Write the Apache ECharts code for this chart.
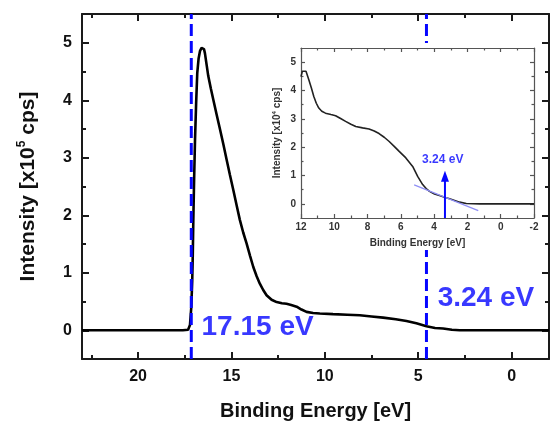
<!DOCTYPE html>
<html><head><meta charset="utf-8">
<script src="https://cdn.jsdelivr.net/npm/echarts@6/dist/echarts.min.js"></script>
<style>html,body{margin:0;padding:0;background:#fff}#c{width:550px;height:430px}</style>
</head><body><div id="c"></div><script>
// ---- data ----
const mainCurve = [[23,0],[20,0],[17.6,0],[17.32,0.01],[17.22,0.09],[17.15,0.4],[17.1,0.85],[17.07,1.3],[17.04,1.92],[17.0,2.6],[16.95,3.31],[16.89,3.95],[16.83,4.47],[16.76,4.72],[16.68,4.86],[16.6,4.91],[16.54,4.92],[16.47,4.89],[16.42,4.82],[16.33,4.62],[16.24,4.42],[16.1,4.2],[15.97,4.01],[15.8,3.76],[15.61,3.49],[15.43,3.23],[15.26,2.97],[15.08,2.7],[14.9,2.44],[14.72,2.17],[14.55,1.92],[14.37,1.7],[14.19,1.51],[14.0,1.29],[13.83,1.1],[13.65,0.94],[13.48,0.81],[13.3,0.7],[13.12,0.61],[12.85,0.53],[12.58,0.49],[12.3,0.47],[12.05,0.46],[11.8,0.44],[11.51,0.41],[11.25,0.36],[10.98,0.32],[10.63,0.3],[10.27,0.29],[9.56,0.28],[8.8,0.27],[8.13,0.26],[7.5,0.24],[6.88,0.22],[6.2,0.19],[5.63,0.16],[5.1,0.12],[4.56,0.07],[4.1,0.04],[3.67,0.03],[3.2,0.01],[2.78,0],[0,0],[-2,0]];
const insetCurve = [[12,4.49],[11.92,4.68],[11.84,4.75],[11.7,4.68],[11.53,4.38],[11.38,4.1],[11.23,3.79],[11.08,3.55],[10.93,3.38],[10.75,3.27],[10.53,3.2],[10.2,3.15],[9.92,3.11],[9.62,3.01],[9.32,2.91],[9.0,2.81],[8.71,2.73],[8.3,2.68],[7.91,2.64],[7.6,2.57],[7.31,2.48],[7.0,2.35],[6.7,2.2],[6.4,2.03],[6.1,1.85],[5.7,1.62],[5.29,1.32],[4.99,0.97],[4.69,0.68],[4.48,0.54],[4.28,0.44],[3.98,0.35],[3.68,0.29],[3.38,0.23],[3.07,0.18],[2.77,0.12],[2.47,0.06],[2.07,0.01],[1.26,0],[-2,0]];
const tangentLine = [[5.2,0.67],[1.35,-0.24]];
const cutoffLine = [[17.15,-0.5],[17.15,5.5]];
const edgeLine = [[4.56,-0.5],[4.56,5.5]];
const arrowLine = [[3.35,-0.5],[3.35,0.97]];
const mainXMajor = [0,5,10,15,20], mainXMinor = [2.5,7.5,12.5,17.5,22.5];
const mainYMajor = [0,1,2,3,4,5], mainYMinor = [0.5,1.5,2.5,3.5,4.5];
const insetXMajor = [12,10,8,6,4,2,0,-2], insetXMinor = [11,9,7,5,3,1,-1];
const insetYMajor = [0,1,2,3,4,5], insetYMinor = [0.5,1.5,2.5,3.5,4.5];
const mainLabels = [{text:'17.15 eV', x:16.6, y:0.05},{text:'3.24 eV', x:3.96, y:0.56}];
const insetLabel = {text:'3.24 eV', x:3.48, y:1.56};

const FONT = 'Liberation Sans, Arial, sans-serif';
const BLUE = '#0606ff';

function ax(dim, grid, pos, range, ticks, len, o) {
  o = o || {};
  const a = {
    type: 'value', gridIndex: grid, position: pos, min: range[0], max: range[1],
    inverse: !!range[2], z: o.z || 0,
    axisLine: {show: !!o.line, onZero: false, lineStyle: {color: o.color, width: o.width}},
    axisTick: {show: true, inside: true, length: len, customValues: ticks, lineStyle: {color: o.color, width: o.width}},
    axisLabel: {show: !!o.labels, customValues: ticks, margin: o.margin, color: o.labelColor,
                fontFamily: FONT, fontWeight: 'bold', fontSize: o.fontSize},
    splitLine: {show: false}
  };
  if (o.name) Object.assign(a, o.name);
  return a;
}

const MX = [-2, 23, true], MY = [-0.5, 5.5], IX = [-2, 12, true], IY = [-0.5, 5.5];
const mainStyle = {color: '#1a1a1a', width: 2};
const insetStyle = {color: '#555', width: 1.2, z: 4};

const xAxis = [
  ax('x',0,'bottom',MX,mainXMajor,7,Object.assign({line:true,labels:true,margin:10,labelColor:'#111',fontSize:16,
     name:{name:'Binding Energy [eV]',nameLocation:'middle',nameGap:42,
       nameTextStyle:{fontFamily:FONT,fontWeight:'bold',fontSize:20,color:'#111'}}},mainStyle)),
  ax('x',0,'bottom',MX,mainXMinor,4,mainStyle),
  ax('x',0,'top',MX,mainXMajor,7,Object.assign({line:true},mainStyle)),
  ax('x',0,'top',MX,mainXMinor,4,mainStyle),
  ax('x',1,'bottom',IX,insetXMajor,4,Object.assign({line:true,labels:true,margin:4,labelColor:'#333',fontSize:10,
     name:{name:'Binding Energy [eV]',nameLocation:'middle',nameGap:20,
       nameTextStyle:{fontFamily:FONT,fontWeight:'bold',fontSize:10,color:'#333'}}},insetStyle)),
  ax('x',1,'bottom',IX,insetXMinor,2.5,insetStyle),
  ax('x',1,'top',IX,insetXMajor,4,Object.assign({line:true},insetStyle)),
  ax('x',1,'top',IX,insetXMinor,2.5,insetStyle)
];
const yAxis = [
  ax('y',0,'left',MY,mainYMajor,7,Object.assign({line:true,labels:true,margin:10,labelColor:'#111',fontSize:16,
     name:{name:'Intensity [x10{sup|5} cps]',nameLocation:'middle',nameGap:42,nameRotate:90,
       nameTextStyle:{fontFamily:FONT,fontWeight:'bold',fontSize:21,color:'#111',lineHeight:24,
         rich:{sup:{fontFamily:FONT,fontWeight:'bold',fontSize:12,color:'#111',verticalAlign:'top',lineHeight:12}}}}},mainStyle)),
  ax('y',0,'left',MY,mainYMinor,4,mainStyle),
  ax('y',0,'right',MY,mainYMajor,7,Object.assign({line:true},mainStyle)),
  ax('y',0,'right',MY,mainYMinor,4,mainStyle),
  ax('y',1,'left',IY,insetYMajor,4,Object.assign({line:true,labels:true,margin:5,labelColor:'#333',fontSize:10,
     name:{name:'Intensity [x10{sup|4} cps]',nameLocation:'middle',nameGap:18,nameRotate:90,
       nameTextStyle:{fontFamily:FONT,fontWeight:'bold',fontSize:10,color:'#333',lineHeight:12,
         rich:{sup:{fontFamily:FONT,fontWeight:'bold',fontSize:6,color:'#333',verticalAlign:'top',lineHeight:6}}}}},insetStyle)),
  ax('y',1,'left',IY,insetYMinor,2.5,insetStyle),
  ax('y',1,'right',IY,insetYMajor,4,Object.assign({line:true},insetStyle)),
  ax('y',1,'right',IY,insetYMinor,2.5,insetStyle)
];

const chart = echarts.init(document.getElementById('c'), null, {renderer: 'canvas'});
chart.setOption({
  animation: false,
  backgroundColor: '#fff',
  grid: [
    {left: 82, top: 14, width: 467, height: 345, outerBoundsMode: 'none', containLabel: false},
    {left: 301, top: 48, width: 233, height: 170, outerBoundsMode: 'none', containLabel: false}
  ],
  xAxis, yAxis,
  graphic: [{type: 'rect', z: 3, silent: true, shape: {x: 266, y: 43, width: 274, height: 207}, style: {fill: '#fff'}}],
  series: [
    {type:'line', xAxisIndex:0, yAxisIndex:0, data: mainCurve, showSymbol:false, symbol:'none',
     lineStyle:{color:'#000', width:2.6}, z:2},
    {type:'line', xAxisIndex:0, yAxisIndex:0, data: cutoffLine, symbol:'none',
     lineStyle:{color:BLUE, width:3, type:[12,5]}, z:2},
    {type:'line', xAxisIndex:0, yAxisIndex:0, data: edgeLine, symbol:'none',
     lineStyle:{color:BLUE, width:3, type:[12,5]}, z:2},
    {type:'scatter', xAxisIndex:0, yAxisIndex:0, symbolSize:0, z:2,
     data: mainLabels.map(d => ({value:[d.x, d.y], name:d.text})),
     label:{show:true, position:'right', distance:0, formatter: p => p.name,
       fontFamily:FONT, fontWeight:'bold', fontSize:28, color:BLUE}},
    {type:'line', xAxisIndex:4, yAxisIndex:4, data: insetCurve, symbol:'none',
     lineStyle:{color:'#222', width:1.6}, z:5},
    {type:'line', xAxisIndex:4, yAxisIndex:4, data: tangentLine, symbol:'none',
     lineStyle:{color:'#8f8ff5', width:1.2}, z:5},
    {type:'line', xAxisIndex:4, yAxisIndex:4, z:6,
     data: arrowLine.map((p,i) => ({value:p, symbol: i ? 'triangle' : 'none', symbolSize: i ? [8,11] : 0})),
     showSymbol:true, itemStyle:{color:BLUE}, lineStyle:{color:BLUE, width:2}},
    {type:'scatter', xAxisIndex:4, yAxisIndex:4, symbolSize:0, z:6,
     data: [{value:[insetLabel.x, insetLabel.y], name: insetLabel.text}],
     label:{show:true, position:'inside', formatter: p => p.name,
       fontFamily:FONT, fontWeight:'bold', fontSize:12, color:BLUE}}
  ]
});
</script></body></html>
